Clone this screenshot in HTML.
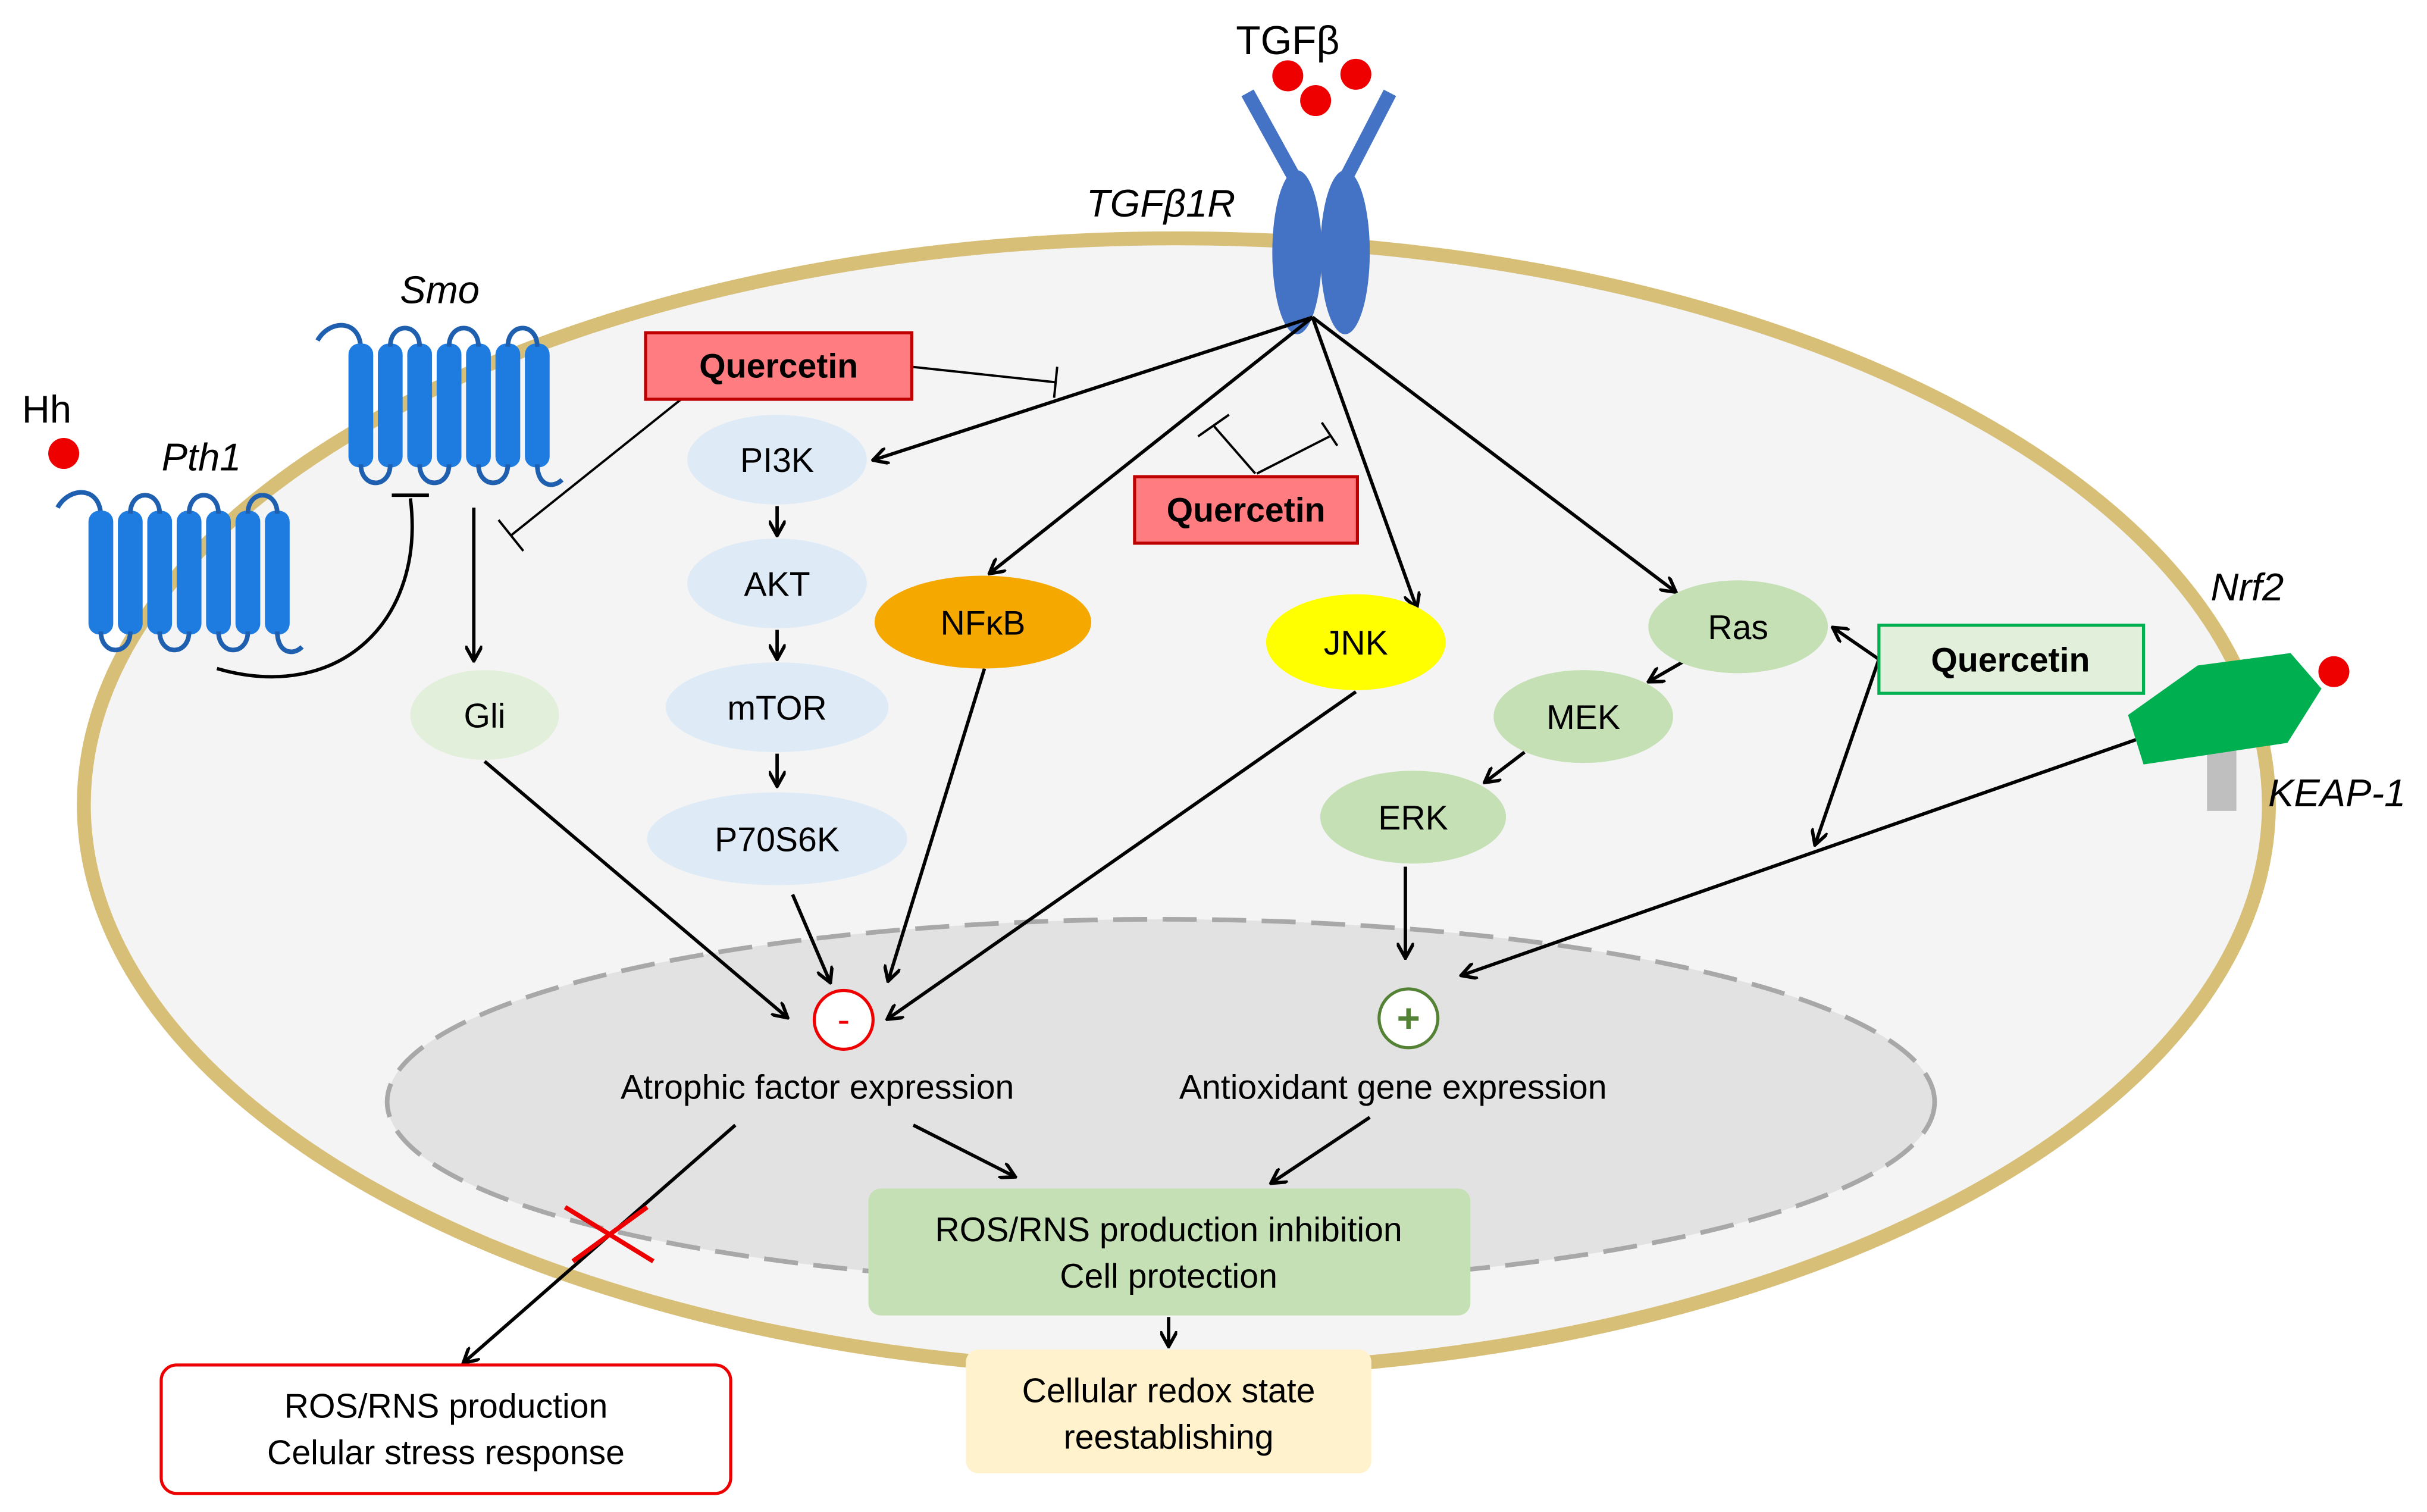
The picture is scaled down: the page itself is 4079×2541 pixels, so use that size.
<!DOCTYPE html>
<html><head><meta charset="utf-8"><style>
html,body{margin:0;padding:0;background:#fff}
svg{display:block}
text{font-family:"Liberation Sans",Arial,sans-serif}
</style></head><body>
<svg id="s" width="4079" height="2541" viewBox="0 0 1568 977" xmlns="http://www.w3.org/2000/svg">
<defs>
<marker id="a" viewBox="0 0 10 10" refX="8" refY="5" markerWidth="5" markerHeight="5" orient="auto"><path d="M0,0 L9,5 L0,10" fill="none" stroke="#000" stroke-width="2"/></marker>
</defs>
<rect width="1568" height="977" fill="#fff"/>
<ellipse cx="760" cy="520" rx="706" ry="366" fill="#f4f4f4" stroke="#d8bf78" stroke-width="9"/>
<ellipse cx="750" cy="712" rx="500" ry="118" fill="#e2e2e2" stroke="#a8a8a8" stroke-width="3" stroke-dasharray="22,10"/>

<line x1="838" y1="118" x2="806" y2="60" stroke="#4472c4" stroke-width="9"/>
<line x1="868" y1="118" x2="898" y2="60" stroke="#4472c4" stroke-width="9"/>
<ellipse cx="838" cy="163" rx="16" ry="53" fill="#4472c4"/>
<ellipse cx="869" cy="163" rx="16" ry="53" fill="#4472c4"/>
<circle cx="832" cy="49" r="10" fill="#e00"/><circle cx="850" cy="65" r="10" fill="#e00"/><circle cx="876" cy="48" r="10" fill="#e00"/>
<text x="832" y="35" font-size="26" text-anchor="middle">TGFβ</text>
<text x="750" y="140" font-size="25" font-style="italic" text-anchor="middle">TGFβ1R</text>

<g id="smo"></g>
<text x="284" y="196" font-size="25" font-style="italic" text-anchor="middle">Smo</text>
<text x="130" y="304" font-size="25" font-style="italic" text-anchor="middle">Pth1</text>
<text x="30" y="273" font-size="25" text-anchor="middle">Hh</text>
<circle cx="41" cy="293" r="10" fill="#e00"/>
<path d="M140,432 C220,455 275,400 265,322" fill="none" stroke="#000" stroke-width="2.2"/>
<line x1="253" y1="320" x2="277" y2="320" stroke="#000" stroke-width="2.2"/>
<line x1="306" y1="328" x2="306" y2="426" stroke="#000" stroke-width="2.2" marker-end="url(#a)"/>

<line x1="440" y1="258" x2="330" y2="346" stroke="#000" stroke-width="1.5"/>
<line x1="322" y1="336" x2="338" y2="356" stroke="#000" stroke-width="1.5"/>
<line x1="589" y1="237" x2="682" y2="247" stroke="#000" stroke-width="1.5"/>
<line x1="683" y1="237" x2="681" y2="257" stroke="#000" stroke-width="1.5"/>
<rect x="417" y="215" width="172" height="43" fill="#ff7c80" stroke="#c00000" stroke-width="2"/>
<text x="503" y="244" font-size="22" font-weight="bold" text-anchor="middle">Quercetin</text>

<g stroke="#000" stroke-width="1.5" fill="none">
<line x1="811" y1="306" x2="784" y2="275"/>
<line x1="774" y1="282" x2="794" y2="268"/>
<line x1="812" y1="306" x2="859" y2="282"/>
<line x1="854" y1="273" x2="864" y2="288"/>
</g>
<rect x="733" y="308" width="144" height="43" fill="#ff7c80" stroke="#c00000" stroke-width="2"/>
<text x="805" y="337" font-size="22" font-weight="bold" text-anchor="middle">Quercetin</text>

<g stroke="#000" stroke-width="2.2" fill="none" marker-end="url(#a)">
<line x1="848" y1="205" x2="565" y2="297"/>
<line x1="848" y1="205" x2="640" y2="370"/>
<line x1="848" y1="205" x2="915" y2="392"/>
<line x1="848" y1="205" x2="1082" y2="382"/>
<line x1="502" y1="327" x2="502" y2="345"/>
<line x1="502" y1="407" x2="502" y2="425"/>
<line x1="502" y1="487" x2="502" y2="507"/>
<line x1="313" y1="492" x2="508" y2="657"/>
<line x1="512" y1="578" x2="536" y2="634"/>
<line x1="636" y1="432" x2="574" y2="633"/>
<line x1="876" y1="447" x2="574" y2="658"/>
<line x1="1092" y1="425" x2="1066" y2="440"/>
<line x1="985" y1="486" x2="960" y2="505"/>
<line x1="908" y1="560" x2="908" y2="618"/>
<line x1="1380" y1="478" x2="945" y2="630"/>
<line x1="1214" y1="426" x2="1185" y2="406"/>
<line x1="1214" y1="426" x2="1173" y2="545"/>
<line x1="475" y1="727" x2="300" y2="880"/>
<line x1="590" y1="727" x2="655" y2="760"/>
<line x1="885" y1="722" x2="822" y2="764"/>
<line x1="755" y1="851" x2="755" y2="869"/>
</g>

<g font-size="22" text-anchor="middle">
<ellipse cx="313" cy="462" rx="48" ry="29" fill="#e2efda"/><text x="313" y="470">Gli</text>
<ellipse cx="502" cy="297" rx="58" ry="29" fill="#deebf7"/><text x="502" y="305">PI3K</text>
<ellipse cx="502" cy="377" rx="58" ry="29" fill="#deebf7"/><text x="502" y="385">AKT</text>
<ellipse cx="502" cy="457" rx="72" ry="29" fill="#deebf7"/><text x="502" y="465">mTOR</text>
<ellipse cx="502" cy="542" rx="84" ry="30" fill="#deebf7"/><text x="502" y="550">P70S6K</text>
<ellipse cx="635" cy="402" rx="70" ry="30" fill="#f5a800"/><text x="635" y="410">NFκB</text>
<ellipse cx="876" cy="415" rx="58" ry="31" fill="#ffff00"/><text x="876" y="423">JNK</text>
<ellipse cx="1123" cy="405" rx="58" ry="30" fill="#c5e0b4"/><text x="1123" y="413">Ras</text>
<ellipse cx="1023" cy="463" rx="58" ry="30" fill="#c5e0b4"/><text x="1023" y="471">MEK</text>
<ellipse cx="913" cy="528" rx="60" ry="30" fill="#c5e0b4"/><text x="913" y="536">ERK</text>
</g>

<rect x="1214" y="404" width="171" height="44" fill="#e2efda" stroke="#00b050" stroke-width="2"/>
<text x="1299" y="434" font-size="22" font-weight="bold" text-anchor="middle">Quercetin</text>

<text x="1452" y="388" font-size="25" font-style="italic" text-anchor="middle">Nrf2</text>
<rect x="1426" y="478" width="19" height="46" fill="#bfbfbf"/>
<polygon points="1375,462 1420,430 1480,422 1500,445 1478,480 1385,494" fill="#00b050"/>
<circle cx="1508" cy="434" r="10" fill="#e00"/>
<text x="1510" y="521" font-size="25" font-style="italic" text-anchor="middle">KEAP-1</text>

<circle cx="545" cy="659" r="19" fill="#fff" stroke="#e00" stroke-width="2"/>
<text x="545" y="667" font-size="24" fill="#e00" text-anchor="middle">-</text>
<circle cx="910" cy="658" r="19" fill="#fff" stroke="#548235" stroke-width="2"/>
<text x="910" y="667" font-size="26" font-weight="bold" fill="#548235" text-anchor="middle">+</text>

<g font-size="22" text-anchor="middle">
<text x="528" y="710">Atrophic factor expression</text>
<text x="900" y="710">Antioxidant gene expression</text>
</g>

<line x1="365" y1="780" x2="422" y2="815" stroke="#e00" stroke-width="3"/>
<line x1="370" y1="815" x2="418" y2="780" stroke="#e00" stroke-width="3"/>

<rect x="561" y="768" width="389" height="82" rx="8" fill="#c5e0b4"/>
<text x="755" y="802" font-size="22" text-anchor="middle">ROS/RNS production inhibition</text>
<text x="755" y="832" font-size="22" text-anchor="middle">Cell protection</text>
<rect x="624" y="872" width="262" height="80" rx="8" fill="#fff2cc"/>
<text x="755" y="906" font-size="22" text-anchor="middle">Cellular redox state</text>
<text x="755" y="936" font-size="22" text-anchor="middle">reestablishing</text>
<rect x="104" y="882" width="368" height="83" rx="10" fill="#fff" stroke="#e00" stroke-width="2"/>
<text x="288" y="916" font-size="22" text-anchor="middle">ROS/RNS production</text>
<text x="288" y="946" font-size="22" text-anchor="middle">Celular stress response</text>
</svg>
<script>
(function(){
var g=document.getElementById('smo'),h='';
function tm(x0,y0){
 var p=19,w=16,H=80,c='#1e7be0';
 h+='<path d="M'+(x0-20)+','+(y0-2)+' C'+(x0-12)+','+(y0-16)+' '+(x0+w/2)+','+(y0-16)+' '+(x0+w/2)+','+(y0+4)+'" fill="none" stroke="#1f5fb0" stroke-width="3"/>';
 for(var i=0;i<7;i++){
  var x=x0+i*p;
  h+='<rect x="'+x+'" y="'+y0+'" width="'+w+'" height="'+H+'" rx="7" fill="'+c+'"/>';
 }
 for(var i=0;i<7;i++){
  var cx=x0+i*p+w/2;
  if(i%2==1 && i<6) h+='<path d="M'+cx+','+(y0+2)+' C'+cx+','+(y0-14)+' '+(cx+p)+','+(y0-14)+' '+(cx+p)+','+(y0+2)+'" fill="none" stroke="#1f5fb0" stroke-width="3"/>';
  if(i%2==0 && i<6) h+='<path d="M'+cx+','+(y0+H-2)+' C'+cx+','+(y0+H+14)+' '+(cx+p)+','+(y0+H+14)+' '+(cx+p)+','+(y0+H-2)+'" fill="none" stroke="#1f5fb0" stroke-width="3"/>';
 }
 var lx=x0+6*p+w/2;
 h+='<path d="M'+lx+','+(y0+H-2)+' C'+lx+','+(y0+H+12)+' '+(lx+10)+','+(y0+H+14)+' '+(lx+16)+','+(y0+H+8)+'" fill="none" stroke="#1f5fb0" stroke-width="3"/>';
}
tm(225,222);tm(57,330);
g.innerHTML=h;
})();
</script>
</body></html>
